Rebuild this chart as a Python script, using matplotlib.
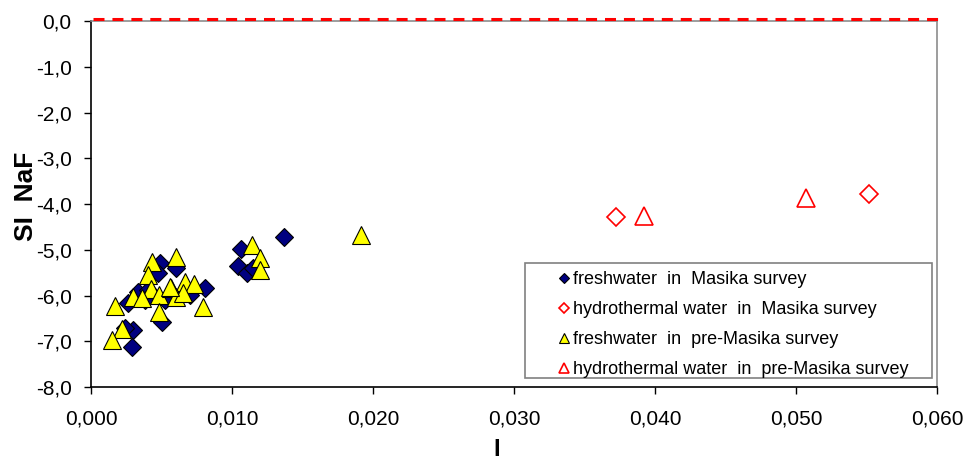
import numpy as np
import matplotlib
matplotlib.use("Agg")
import matplotlib.pyplot as plt
from matplotlib.patches import Rectangle
from matplotlib.transforms import offset_copy

plt.rcParams['font.family'] = ['Liberation Sans', 'DejaVu Sans']

# ionic strength I and saturation index of NaF
fresh_masika_i = [0.01369, 0.01064, 0.01043, 0.01106, 0.01149, 0.00489, 0.00475,
                  0.00603, 0.00809, 0.00702, 0.00333, 0.00262, 0.00504, 0.00298,
                  0.00291, 0.00241, 0.00404, 0.00525, 0.00383]
fresh_masika_si = [-4.72, -4.98, -5.35, -5.51, -5.40, -5.29, -5.51,
                   -5.40, -5.84, -5.99, -5.92, -6.16, -6.58, -6.75,
                   -7.13, -6.71, -5.88, -6.10, -6.10]

hydro_masika_i = [0.0372, 0.0552]
hydro_masika_si = [-4.29, -3.78]

fresh_pre_i = [0.01915, 0.01142, 0.01199, 0.01199, 0.00433, 0.00603, 0.00404,
               0.00426, 0.00298, 0.00362, 0.00482, 0.00170, 0.00567, 0.00667,
               0.00730, 0.00603, 0.00652, 0.00794, 0.00482, 0.00220, 0.00149,
               0.00560]
fresh_pre_si = [-4.68, -4.90, -5.18, -5.44, -5.27, -5.16, -5.55,
                -5.86, -6.03, -6.05, -5.99, -6.23, -5.84, -5.70,
                -5.75, -6.03, -5.95, -6.25, -6.36, -6.73, -6.97,
                -5.81]

hydro_pre_i = [0.0392, 0.0507]
hydro_pre_si = [-4.27, -3.86]

saturation_i = [0.0, 0.060]
saturation_si = [0.0, 0.0]

labels = ["freshwater  in  Masika survey",
          "hydrothermal water  in  Masika survey",
          "freshwater  in  pre-Masika survey",
          "hydrothermal water  in  pre-Masika survey"]

x_ticks = [0.0, 0.01, 0.02, 0.03, 0.04, 0.05, 0.06]
y_ticks = [-8, -7, -6, -5, -4, -3, -2, -1, 0]

fig = plt.figure(figsize=(9.71, 4.65), dpi=100)
ax = fig.add_axes([0.0937, 0.1677, 0.8713, 0.7871])

ax.plot(fresh_masika_i, fresh_masika_si, 'D', ms=8.7, mfc='#000080', mec='black',
        mew=0.8, ls='none', label=labels[0], zorder=3)
ax.plot(hydro_masika_i, hydro_masika_si, 'D', ms=8.7, mfc='white', mec='red',
        mew=1.2, ls='none', label=labels[1], zorder=3)
ax.plot(fresh_pre_i, fresh_pre_si, '^', ms=12.5, mfc='#FFFF00', mec='black',
        mew=0.8, ls='none', label=labels[2], zorder=4)
ax.plot(hydro_pre_i, hydro_pre_si, '^', ms=12.5, mfc='white', mec='red',
        mew=1.2, ls='none', label=labels[3], zorder=4)

# saturation line, nudged just above the plot border
ax.plot(saturation_i, saturation_si, color='red', lw=2.2, dashes=(3.6, 2.6),
        solid_capstyle='butt', dash_capstyle='butt', clip_on=False, zorder=6,
        transform=offset_copy(ax.transData, fig=fig, x=2, y=2, units='dots'))

ax.set_xlim(0, 0.060)
ax.set_ylim(-8, 0)
ax.set_xticks(x_ticks)
ax.set_yticks(y_ticks)
ax.set_xticklabels([f"{v:.3f}".replace('.', ',') for v in x_ticks])
ax.set_yticklabels([f"{v:.1f}".replace('.', ',') for v in y_ticks])
ax.tick_params(axis='both', direction='out', length=5, width=1, labelsize=15,
               colors='black')
ax.tick_params(axis='y', pad=9)
ax.tick_params(axis='x', pad=11)

for side in ('left', 'bottom'):
    ax.spines[side].set_color('black')
    ax.spines[side].set_linewidth(1.2)
for side in ('top', 'right'):
    ax.spines[side].set_color('#8c8c8c')
    ax.spines[side].set_linewidth(1.2)

ax.set_ylabel("SI  NaF", fontsize=19, fontweight='bold')
ax.yaxis.set_label_coords(-0.063, 0.522)
ax.set_xlabel("I", fontsize=17, fontweight='bold')
ax.xaxis.set_label_coords(0.48, -0.139)

# legend box drawn by hand so the markers can sit close to the text
ax.add_patch(Rectangle((0.513, 0.0246), 0.481, 0.314, transform=ax.transAxes,
                       facecolor='white', edgecolor='#808080', lw=1.2,
                       zorder=7, clip_on=False))
leg = ax.legend(loc='upper left', bbox_to_anchor=(0.534, 0.356), frameon=False,
                fontsize=13, handlelength=0.7, handletextpad=0.15,
                labelspacing=0.72, markerscale=0.55, borderpad=0.3)
leg.set_zorder(8)

fig.savefig("out.png", dpi=100, facecolor='white')
